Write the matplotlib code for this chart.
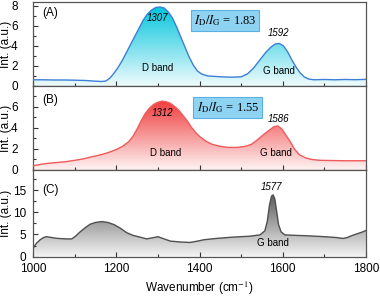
import numpy as np
import matplotlib
matplotlib.use("Agg")
import matplotlib.pyplot as plt
from matplotlib.colors import LinearSegmentedColormap, to_rgb
from matplotlib.patches import Polygon
from matplotlib.ticker import MultipleLocator

plt.rcParams["font.family"] = "sans-serif"
plt.rcParams["font.sans-serif"] = ["Liberation Sans", "DejaVu Sans"]
plt.rcParams["mathtext.fontset"] = "stix"

# spectrum A (blue)
wn_a = [1000, 1025, 1050, 1075, 1100, 1125, 1150, 1165, 1175, 1185, 1195, 1205, 1215, 1225,
        1235, 1245, 1255, 1265, 1275, 1285, 1295, 1305, 1315, 1325, 1335, 1345, 1355, 1365,
        1375, 1385, 1395, 1405, 1420, 1440, 1460, 1480, 1500, 1515, 1530, 1545, 1560, 1572,
        1582, 1592, 1602, 1612, 1622, 1632, 1642, 1652, 1662, 1675, 1700, 1725, 1750, 1775, 1800]
int_a = [0.62, 0.62, 0.60, 0.60, 0.58, 0.55, 0.48, 0.45, 0.50, 0.80, 1.30, 1.90, 2.60, 3.40,
         4.20, 5.00, 5.80, 6.60, 7.20, 7.60, 7.85, 7.90, 7.80, 7.40, 6.80, 5.90, 4.90, 3.90,
         2.90, 2.10, 1.50, 1.20, 1.00, 0.95, 0.90, 0.88, 0.92, 1.20, 1.80, 2.60, 3.40, 3.90,
         4.20, 4.25, 4.00, 3.40, 2.60, 1.90, 1.30, 0.90, 0.70, 0.62, 0.65, 0.62, 0.65, 0.63, 0.66]

# spectrum B (red)
wn_b = [1000, 1020, 1040, 1060, 1080, 1100, 1120, 1140, 1160, 1180, 1200, 1215, 1230, 1240,
        1250, 1260, 1270, 1280, 1290, 1300, 1310, 1320, 1330, 1340, 1350, 1360, 1370, 1380,
        1390, 1400, 1415, 1430, 1450, 1470, 1490, 1510, 1525, 1540, 1555, 1568, 1578, 1588,
        1598, 1608, 1618, 1628, 1640, 1655, 1670, 1690, 1720, 1750, 1780, 1800]
int_b = [0.40, 0.55, 0.65, 0.72, 0.80, 0.92, 1.05, 1.25, 1.42, 1.65, 1.95, 2.25, 2.70, 3.20,
         3.90, 4.70, 5.40, 5.90, 6.25, 6.45, 6.55, 6.50, 6.35, 6.05, 5.70, 5.20, 4.70, 4.10,
         3.60, 3.20, 2.75, 2.45, 2.25, 2.15, 2.15, 2.25, 2.45, 2.90, 3.40, 3.80, 4.10, 4.20,
         3.90, 3.30, 2.70, 2.00, 1.45, 1.15, 1.00, 0.92, 0.90, 0.88, 0.88, 0.88]

# spectrum C (grey)
wn_c = [1000, 1008, 1017, 1025, 1032, 1045, 1060, 1080, 1093, 1102, 1112, 1125, 1137, 1150,
        1165, 1180, 1195, 1210, 1225, 1240, 1257, 1273, 1290, 1300, 1315, 1330, 1355, 1377,
        1395, 1410, 1440, 1480, 1520, 1545, 1557, 1563, 1568, 1573, 1577, 1581, 1585, 1590,
        1596, 1605, 1630, 1660, 1700, 1730, 1745, 1755, 1765, 1777, 1790, 1800]
int_c = [1.9, 3.0, 3.8, 4.3, 4.5, 4.3, 4.1, 4.0, 4.0, 4.6, 5.5, 6.5, 7.3, 7.7,
         7.9, 7.7, 7.2, 6.4, 5.4, 4.8, 4.4, 4.0, 4.3, 4.5, 4.0, 3.5, 3.3, 3.2,
         3.5, 3.8, 4.1, 4.4, 4.6, 4.9, 5.8, 8.0, 11.5, 13.6, 13.9, 13.0, 10.5, 7.2,
         5.6, 4.9, 4.8, 4.7, 4.5, 4.3, 4.1, 4.3, 4.7, 5.1, 5.5, 5.9]

ratio_a = 1.83
ratio_b = 1.55


def grad_fill(ax, x, y, line_color, fill_color, top):
    c = np.array(to_rgb(fill_color))
    light = 0.94 * np.ones(3) + 0.06 * c
    cmap = LinearSegmentedColormap.from_list("g", [light, c])
    img = ax.imshow(np.linspace(0, 1, 256).reshape(-1, 1), cmap=cmap, aspect="auto",
                    extent=[x[0], x[-1], 0, top], origin="lower", zorder=1)
    verts = [(x[0], 0)] + list(zip(x, y)) + [(x[-1], 0)]
    poly = Polygon(verts, closed=True, facecolor="none", edgecolor="none")
    ax.add_patch(poly)
    img.set_clip_path(poly)
    ax.plot(x, y, color=line_color, lw=1.0, zorder=3)


def style(ax, ymax, ymin, yticks, ypad):
    ax.set_xlim(1000, 1800)
    ax.set_ylim(0, ymax)
    ax.set_yticks(yticks)
    ax.xaxis.set_major_locator(MultipleLocator(200))
    ax.xaxis.set_minor_locator(MultipleLocator(100))
    ax.yaxis.set_minor_locator(MultipleLocator(ymin))
    ax.tick_params(which="both", direction="in", top=False, right=False,
                   labelsize=8.5, color="#333333", width=0.8)
    ax.tick_params(axis="x", pad=4.8)
    ax.tick_params(axis="y", pad=ypad)
    ax.tick_params(which="major", length=3.5)
    ax.tick_params(which="minor", length=2)
    for s in ax.spines.values():
        s.set_color("#555555")
        s.set_linewidth(0.9)
    ax.set_ylabel("Int. (a.u.)", fontsize=8.5)
    ax.yaxis.set_label_coords(-0.062, 0.5)


fig = plt.figure(figsize=(3.8, 2.96), dpi=100)
L, W = 0.087, 0.876
ax_a = fig.add_axes([L, 0.7095, W, 0.2838])
ax_b = fig.add_axes([L, 0.4257, W, 0.2838])
ax_c = fig.add_axes([L, 0.1328, W, 0.2929])

# panel A
grad_fill(ax_a, wn_a, int_a, "#3d7fd6", "#00c4dc", 8.0)
style(ax_a, 8.4, 1, [0, 2, 4, 6, 8], 11)
ax_a.tick_params(labelbottom=False)
ax_a.text(1022, 7.3, "(A)", fontsize=8.5, va="center")
ax_a.text(1300, 6.8, "1307", fontsize=7, style="italic", ha="center", va="center", zorder=4)
ax_a.text(1300, 1.8, "D band", fontsize=7, ha="center", va="center", zorder=4)
ax_a.text(1590, 5.3, "1592", fontsize=7, style="italic", ha="center", va="center", zorder=4)
ax_a.text(1590, 1.5, "G band", fontsize=7, ha="center", va="center", zorder=4)
ax_a.text(1461, 6.55, r"$I_\mathrm{D}/I_\mathrm{G}$ = %.2f" % ratio_a, fontsize=9,
          family="Liberation Serif", ha="center", va="center", zorder=5,
          bbox=dict(boxstyle="square,pad=0.25", fc="#8fd3f2", ec="#5ab0e0", lw=0.8))

# panel B
grad_fill(ax_b, wn_b, int_b, "#f05a5a", "#f03c3c", 6.6)
style(ax_b, 8.0, 1, [0, 2, 4, 6], 11)
ax_b.tick_params(labelbottom=False)
ax_b.text(1022, 6.7, "(B)", fontsize=8.5, va="center")
ax_b.text(1312, 5.4, "1312", fontsize=7, style="italic", ha="center", va="center", zorder=4)
ax_b.text(1318, 1.6, "D band", fontsize=7, ha="center", va="center", zorder=4)
ax_b.text(1589, 4.9, "1586", fontsize=7, style="italic", ha="center", va="center", zorder=4)
ax_b.text(1583, 1.6, "G band", fontsize=7, ha="center", va="center", zorder=4)
ax_b.text(1468, 5.95, r"$I_\mathrm{D}/I_\mathrm{G}$ = %.2f" % ratio_b, fontsize=9,
          family="Liberation Serif", ha="center", va="center", zorder=5,
          bbox=dict(boxstyle="square,pad=0.25", fc="#8fd3f2", ec="#5ab0e0", lw=0.8))

# panel C
grad_fill(ax_c, wn_c, int_c, "#505050", "#5a5a5a", 14.0)
style(ax_c, 19.5, 2.5, [0, 5, 10, 15], 5)
ax_c.text(1022, 15.0, "(C)", fontsize=8.5, va="center")
ax_c.text(1573, 15.6, "1577", fontsize=7, style="italic", ha="center", va="center", zorder=4)
ax_c.text(1577, 3.0, "G band", fontsize=7, ha="center", va="center", zorder=4)
ax_c.set_xlabel("Wavenumber (cm$^{-1}$)", fontsize=8.5)
ax_c.xaxis.set_label_coords(0.5, -0.26)

fig.savefig("out.png", dpi=100)
